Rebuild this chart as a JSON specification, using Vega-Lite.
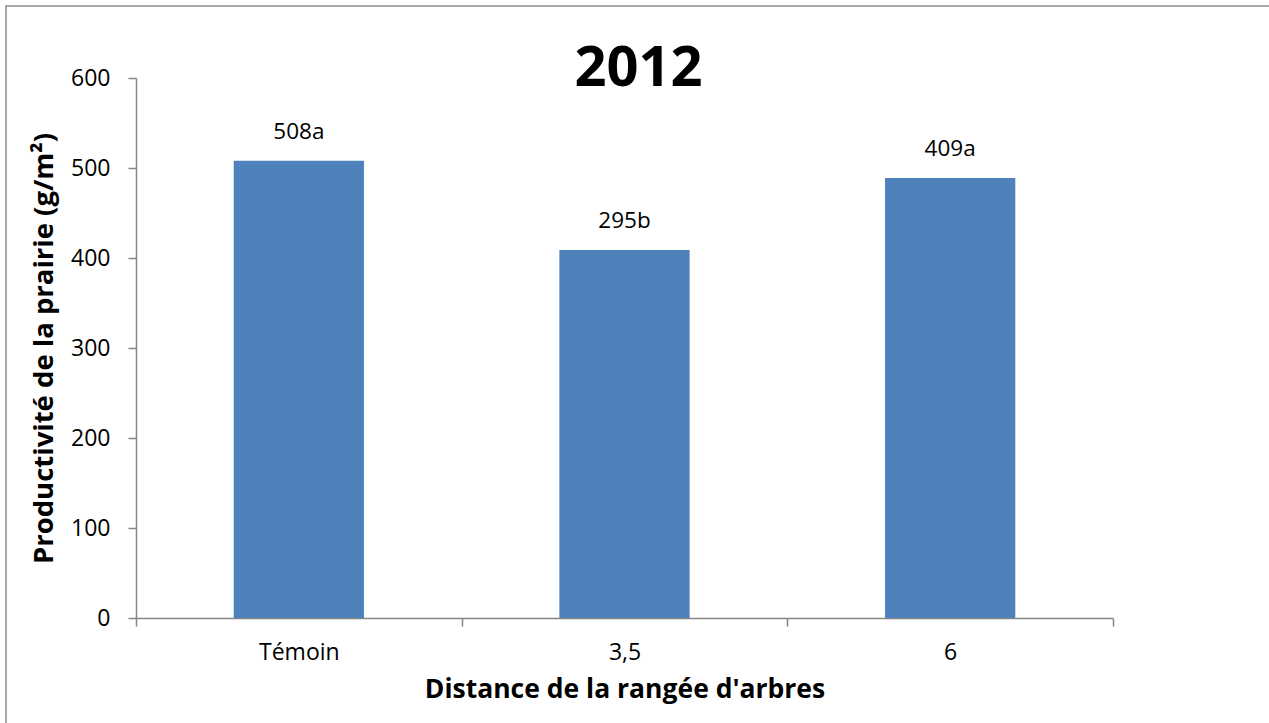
{
  "$schema": "https://vega.github.io/schema/vega-lite/v6.json",
  "autosize": {"type": "none"},
  "padding": {"left": 6, "top": 6, "right": 0, "bottom": 0},
  "width": 1265,
  "height": 719,
  "background": "white",
  "title": {
    "text": "2012",
    "frame": "group",
    "anchor": "middle",
    "offset": -92,
    "font": "Open Sans",
    "fontSize": 56,
    "fontWeight": "bold",
    "color": "black"
  },
  "data": {
    "values": [
      {"distance": "Témoin", "productivite": 508, "label": "508a"},
      {"distance": "3,5", "productivite": 409, "label": "295b"},
      {"distance": "6", "productivite": 489, "label": "409a"}
    ]
  },
  "encoding": {
    "x": {
      "field": "distance",
      "type": "nominal",
      "sort": null,
      "scale": {"range": [130, 1107], "paddingInner": 0, "paddingOuter": 0},
      "axis": {
        "title": "Distance de la rangée d'arbres",
        "offset": -107,
        "labelAngle": 0,
        "tickBand": "extent",
        "tickSize": 8,
        "labelPadding": 15,
        "titlePadding": 12,
        "titleFontSize": 26.5
      }
    },
    "y": {
      "field": "productivite",
      "type": "quantitative",
      "scale": {"domain": [0, 600], "range": [612, 72], "nice": false},
      "axis": {
        "title": "Productivité de la prairie (g/m²)",
        "offset": -130,
        "values": [0, 100, 200, 300, 400, 500, 600],
        "grid": false,
        "tickSize": 8,
        "labelPadding": 18,
        "titlePadding": 12,
        "titleFontSize": 27.5
      }
    }
  },
  "layer": [
    {"mark": {"type": "bar", "color": "#4F81BD", "width": {"band": 0.4}}},
    {
      "mark": {"type": "text", "baseline": "middle", "dy": -29, "font": "Open Sans", "fontSize": 22.5, "color": "black"},
      "encoding": {"text": {"field": "label"}}
    }
  ],
  "config": {
    "view": {"stroke": "#8C8C8C", "strokeWidth": 1.5, "fill": "white"},
    "axis": {
      "domainColor": "#868686",
      "tickColor": "#868686",
      "domainWidth": 1.5,
      "tickWidth": 1.5,
      "labelFont": "Open Sans",
      "labelFontSize": 23,
      "labelColor": "black",
      "titleFont": "Open Sans",
      "titleFontWeight": "bold",
      "titleColor": "black"
    }
  }
}
